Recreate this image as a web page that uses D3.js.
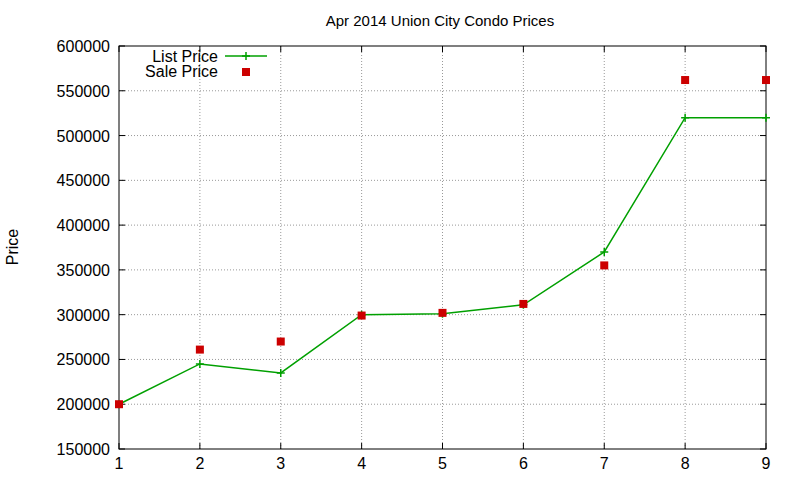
<!DOCTYPE html>
<html><head><meta charset="utf-8">
<script src="https://cdn.jsdelivr.net/npm/d3@7/dist/d3.min.js"></script>
<style>body{margin:0;background:#fff}svg{font-family:"Liberation Sans",Arial,sans-serif}</style>
</head><body><svg id="c" width="800" height="480"></svg>
<script>
const months=[1,2,3,4,5,6,7,8,9];
const listPrice=[200000,245000,235000,300000,301000,311000,370000,520000,520000];
const salePrice=[200000,261000,270000,299000,302000,312000,355000,562000,562000];
const yTicks=[150000,200000,250000,300000,350000,400000,450000,500000,550000,600000];
const svg=d3.select("#c");
const L=119,R=766,T=46,B=449;
const x=d3.scaleLinear().domain([1,9]).range([L,R]);
const y=d3.scaleLinear().domain([150000,600000]).range([B,T]);
const g=svg.append("g");
g.selectAll(".gy").data(yTicks.slice(1,-1)).enter().append("line")
 .attr("x1",L).attr("x2",R).attr("y1",d=>y(d)).attr("y2",d=>y(d))
 .attr("stroke","#999").attr("stroke-dasharray","1,2");
g.selectAll(".gx").data(months.slice(1,-1)).enter().append("line")
 .attr("y1",T).attr("y2",B).attr("x1",d=>x(d)).attr("x2",d=>x(d))
 .attr("stroke","#999").attr("stroke-dasharray","1,2");
g.append("rect").attr("x",L).attr("y",T).attr("width",R-L).attr("height",B-T).attr("fill","none").attr("stroke","#000");
yTicks.forEach(t=>{
 g.append("line").attr("x1",L).attr("x2",L+6).attr("y1",y(t)).attr("y2",y(t)).attr("stroke","#000");
 g.append("line").attr("x1",R).attr("x2",R-6).attr("y1",y(t)).attr("y2",y(t)).attr("stroke","#000");
 g.append("text").attr("x",L-9).attr("y",y(t)+6).attr("text-anchor","end").attr("font-size",16).text(t);
});
months.forEach(m=>{
 g.append("line").attr("y1",B).attr("y2",B-6).attr("x1",x(m)).attr("x2",x(m)).attr("stroke","#000");
 g.append("line").attr("y1",T).attr("y2",T+6).attr("x1",x(m)).attr("x2",x(m)).attr("stroke","#000");
 g.append("text").attr("x",x(m)).attr("y",B+20).attr("text-anchor","middle").attr("font-size",16).text(m);
});
svg.append("text").attr("x",440).attr("y",26).attr("text-anchor","middle").attr("font-size",15).text("Apr 2014 Union City Condo Prices");
svg.append("text").attr("transform","translate(18,247) rotate(-90)").attr("text-anchor","middle").attr("font-size",16).text("Price");
const line=d3.line().x((d,i)=>x(months[i])).y(d=>y(d));
g.append("path").attr("d",line(listPrice)).attr("fill","none").attr("stroke","#00a000").attr("stroke-width",1.5);
const plus=(px,py)=>g.append("path").attr("d",`M${px-4},${py}h8M${px},${py-4}v8`).attr("stroke","#00a000").attr("stroke-width",1.5);
listPrice.forEach((v,i)=>plus(x(months[i]),y(v)));
salePrice.forEach((v,i)=>g.append("rect").attr("x",x(months[i])-4).attr("y",y(v)-4).attr("width",8).attr("height",8).attr("fill","#cc0000"));
svg.append("text").attr("x",218).attr("y",62).attr("text-anchor","end").attr("font-size",16).text("List Price");
svg.append("line").attr("x1",225).attr("x2",267).attr("y1",56).attr("y2",56).attr("stroke","#00a000").attr("stroke-width",1.5);
plus(246,56);
svg.append("text").attr("x",218).attr("y",77).attr("text-anchor","end").attr("font-size",16).text("Sale Price");
svg.append("rect").attr("x",242).attr("y",68).attr("width",8).attr("height",8).attr("fill","#cc0000");
</script></body></html>
